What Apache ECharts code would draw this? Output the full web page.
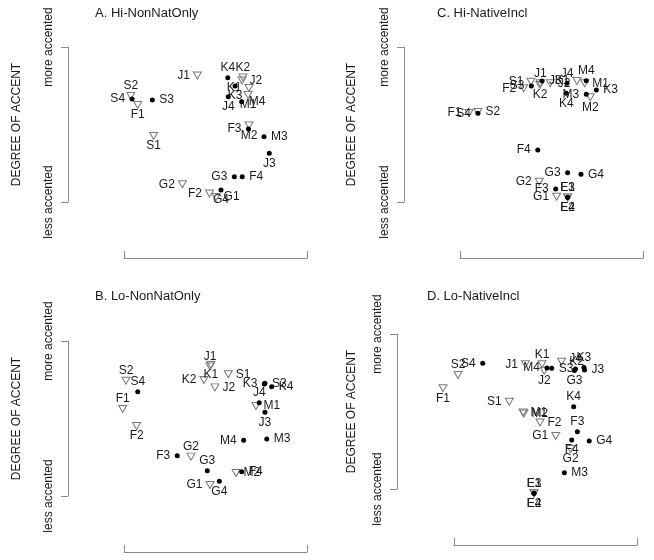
<!DOCTYPE html>
<html>
<head>
<meta charset="utf-8">
<script src="https://cdn.jsdelivr.net/npm/echarts@6/dist/echarts.min.js"></script>
<style>html,body{margin:0;padding:0;background:#fff}#c{width:654px;height:560px}</style>
</head>
<body>
<div id="c"></div>
<script>
// ---- data (MDS-style coordinates, 0 = left/less accented, 100 = right/more accented) ----
const namesNonNat = ['S1','S2','S3','S4','F1','F2','F3','F4','J1','J2','J3','J4','K1','K2','K3','K4','M1','M2','M3','M4','G1','G2','G3','G4'];
const namesNative = namesNonNat.concat(['E1','E2','E3','E4']);
const yTickLabels = ['less accented', 'more accented'];

const xA = [16.2,3.7,15.5,4.4,7.5,46.7,68.0,64.6,40.1,64.5,79.4,57.0,68.3,65.0,60.7,56.7,67.8,68.3,76.5,64.3,50.3,31.9,60.3,53.0];
const yA = [42.6,68.4,65.8,66.5,62.6,5.5,47.1,16.3,81.6,78.4,31.4,67.9,73.6,80.3,74.8,80.2,69.0,49.4,42.1,64.7,3.2,11.4,16.3,7.7];

const xB = [57.0,1.1,77.0,7.5,-0.7,6.9,29.1,64.3,47.0,49.7,77.0,73.9,47.5,43.7,76.7,80.7,72.1,61.2,78.0,65.4,47.0,36.6,45.5,52.1];
const yB = [78.5,74.4,72.7,67.3,56.1,45.2,26.0,15.7,83.6,70.1,54.0,60.2,84.5,74.8,72.3,70.5,58.1,14.8,36.8,35.9,7.1,25.4,16.3,9.5];

const xC = [38.8,9.8,39.0,9.8,4.9,34.8,52.3,42.5,43.9,49.3,44.8,58.5,63.9,43.7,74.5,58.1,68.1,71.2,69.0,69.0,52.8,43.3,58.8,66.1,58.8,58.8,58.8,58.8];
const yC = [77.6,58.1,74.8,57.2,57.4,73.4,8.4,33.5,76.6,76.6,78.1,76.6,78.1,75.5,72.3,70.1,76.6,67.6,69.5,78.3,3.4,13.1,18.9,17.9,3.0,3.0,3.0,3.0];

const xD = [30.2,2.2,53.4,15.7,-6.0,47.0,67.4,64.3,39.0,49.3,71.3,66.4,48.1,58.8,71.0,65.4,37.7,38.2,60.3,50.8,55.6,63.7,65.8,73.9,43.7,43.7,43.7,43.7];
const yD = [56.3,73.6,77.9,81.1,65.0,42.9,37.0,31.6,80.5,76.3,76.8,77.4,80.5,82.1,78.4,53.1,49.4,48.7,10.5,78.1,34.2,25.8,76.5,31.0,-2.8,-2.8,-2.8,-2.8];

// label placement (style, not data)
const posA = ['bottom','top','right','left','bottom','left','left','right','left','right','bottom','bottom','left','top','bottom','top','bottom','bottom','right','right','right','left','left','bottom'];
const posB = ['right','top','right','top','top','bottom','left','right','top','right','bottom','top','bottom','left','left','right','right','right','right','left','left','top','top','bottom'];
const posC = ['left','right','left','left','left','left','left','left','top','right','right','top','left','bottom','right','bottom','right','bottom','left','top','left','left','left','right','top','bottom','top','bottom'];
const posD = ['left','top','right','left','bottom','right','top','bottom','left','bottom','right','top','top','right','top','top','right','right','right','left','left','bottom','bottom','right','top','bottom','top','bottom'];

// ---- layout ----
const FONT = '"Liberation Sans", Arial, Helvetica, sans-serif';
const TXT = '#1a1a1a';
const AXC = '#8a8a8a';
const panels = [
  {title:'A. Hi-NonNatOnly', names:namesNonNat, x:xA, y:yA, pos:posA, left:124, top:47, yOff:56, xOff:56, tLeft:95, tTop:7, degX:17},
  {title:'B. Lo-NonNatOnly', names:namesNonNat, x:xB, y:yB, pos:posB, left:124, top:341, yOff:56, xOff:56, tLeft:95, tTop:290, degX:17},
  {title:'C. Hi-NativeIncl', names:namesNative, x:xC, y:yC, pos:posC, left:460, top:47, yOff:56, xOff:56, tLeft:437, tTop:7, degX:352},
  {title:'D. Lo-NativeIncl', names:namesNative, x:xD, y:yD, pos:posD, left:454, top:334, yOff:57, xOff:56, tLeft:427, tTop:290, degX:352}
];
const GW = 183, GH = 155;

const option = {
  animation:false,
  backgroundColor:'#fff',
  title:[], grid:[], xAxis:[], yAxis:[], series:[], graphic:[]
};

function isTri(n){ const d = n.charAt(1); return d === '1' || d === '2'; }

panels.forEach((p, i) => {
  option.title.push({text:p.title, left:p.tLeft, top:p.tTop, padding:0,
    textStyle:{fontFamily:FONT, fontSize:13, fontWeight:'normal', color:TXT}});
  option.grid.push({left:p.left, top:p.top, width:GW, height:GH, containLabel:false});
  option.xAxis.push({gridIndex:i, type:'value', min:0, max:100, interval:100, offset:p.xOff, position:'bottom',
    axisLine:{show:true, onZero:false, lineStyle:{color:AXC, width:1}},
    axisTick:{show:true, inside:true, length:7, lineStyle:{color:AXC}},
    axisLabel:{show:false}, splitLine:{show:false}});
  option.yAxis.push({gridIndex:i, type:'value', min:0, max:100, interval:100, offset:p.yOff, position:'left',
    axisLine:{show:true, onZero:false, lineStyle:{color:AXC, width:1}},
    axisTick:{show:true, length:7, lineStyle:{color:AXC}},
    axisLabel:{show:true, rotate:90, margin:13, fontFamily:FONT, fontSize:12, color:TXT,
      formatter:v => v === 0 ? yTickLabels[0] : yTickLabels[1]},
    splitLine:{show:false}});
  const tri = [], dot = [];
  p.names.forEach((n, k) => {
    const t = isTri(n);
    const ps = p.pos[k];
    const horiz = (ps === 'left' || ps === 'right');
    const dist = t ? (horiz ? 3 : 0) : (horiz ? 4.5 : 1.5);
    const item = {name:n, value:[p.x[k], p.y[k]], label:{position:ps, distance:dist}};
    (t ? tri : dot).push(item);
  });
  const lbl = {show:true, formatter:'{b}', fontFamily:FONT, fontSize:12, color:TXT};
  option.series.push({type:'scatter', xAxisIndex:i, yAxisIndex:i, clip:false, data:tri,
    symbol:'triangle', symbolRotate:180, symbolSize:[8,7],
    itemStyle:{color:'rgba(0,0,0,0)', borderColor:'#7a7a7a', borderWidth:1, opacity:1},
    label:lbl, emphasis:{disabled:true}, z:2});
  option.series.push({type:'scatter', xAxisIndex:i, yAxisIndex:i, clip:false, data:dot,
    symbol:'circle', symbolSize:5,
    itemStyle:{color:'#000', opacity:1},
    label:lbl, emphasis:{disabled:true}, z:3});
  option.graphic.push({type:'text', x:p.degX, y:p.top + GH/2, rotation:Math.PI/2,
    style:{text:'DEGREE OF ACCENT', font:'12px ' + FONT, fill:TXT, align:'center', verticalAlign:'middle'}});
});

const chart = echarts.init(document.getElementById('c'), null, {renderer:'canvas'});
chart.setOption(option);
</script>
</body>
</html>
